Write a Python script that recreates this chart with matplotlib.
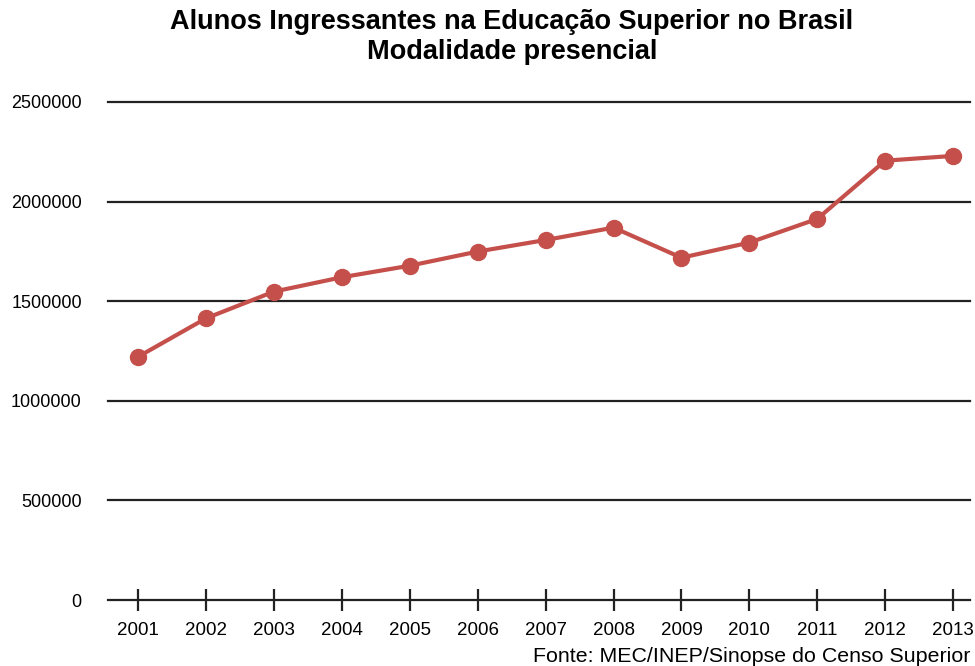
import matplotlib
matplotlib.use("Agg")
import matplotlib.pyplot as plt

# Dados
anos = [2001, 2002, 2003, 2004, 2005, 2006, 2007, 2008, 2009, 2010, 2011, 2012, 2013]
ingressantes = [1221000, 1414000, 1548000, 1620000, 1678000, 1749000, 1807000,
                1869000, 1718000, 1794000, 1913000, 2205000, 2229000]
yticks = [0, 500000, 1000000, 1500000, 2000000, 2500000]

plt.rcParams['font.family'] = ['Liberation Sans', 'DejaVu Sans']

fig = plt.figure(figsize=(9.75, 6.66), dpi=100)
ax = fig.add_axes([0.111, 0.099, 0.884, 0.748])

# linhas de grade
for v in yticks[1:]:
    ax.axhline(v, color='#222222', lw=1.6, zorder=1, clip_on=False)

ax.plot(anos, ingressantes, color='#C5504B', lw=3, marker='o', markersize=11.5,
        zorder=3, clip_on=False)

ax.set_xlim(2000.56, 2013.25)
ax.set_ylim(0, 2500000)
ax.set_xticks(anos)
ax.set_xticklabels([str(a) for a in anos])
ax.set_yticks(yticks)
ax.set_yticklabels([str(v) for v in yticks])

for s in ['top', 'right', 'left']:
    ax.spines[s].set_visible(False)
ax.spines['bottom'].set_linewidth(1.6)
ax.spines['bottom'].set_color('#222222')
ax.tick_params(axis='x', direction='inout', length=16, width=1.6, color='#222222',
               labelsize=13.5, pad=8)
ax.tick_params(axis='y', length=0, labelsize=13, pad=19)

# titulo
fig.text(0.525, 1 - 22 / 666, "Alunos Ingressantes na Educação Superior no Brasil",
         ha='center', va='center', fontsize=19.5, fontweight='bold')
fig.text(0.525, 1 - 52 / 666, "Modalidade presencial",
         ha='center', va='center', fontsize=19.5, fontweight='bold')
fig.text(0.995, 4 / 666, "Fonte: MEC/INEP/Sinopse do Censo Superior",
         ha='right', va='baseline', fontsize=15.4)

fig.savefig("out.png", dpi=100)
